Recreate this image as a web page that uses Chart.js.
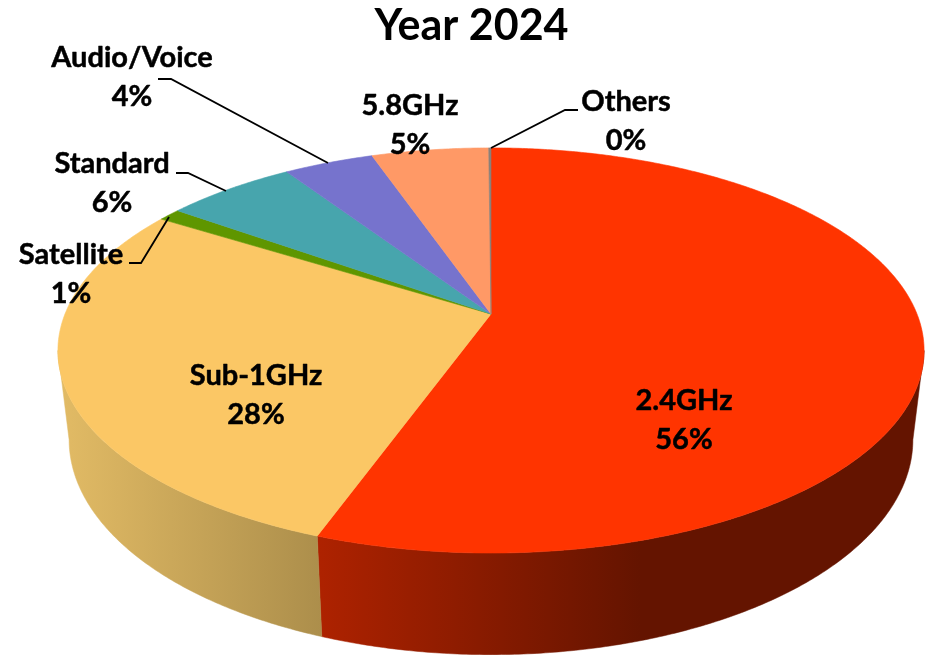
<!DOCTYPE html>
<html>
<head>
<meta charset="utf-8">
<style>html,body{margin:0;padding:0;background:#fff}canvas{display:block}</style>
<script src="https://cdn.jsdelivr.net/npm/chart.js@4"></script>
</head>
<body>
<canvas id="c" width="936" height="655"></canvas>
<script>
// ---- data ----
const categories = ['2.4GHz', 'Sub-1GHz', 'Satellite', 'Standard', 'Audio/Voice', '5.8GHz', 'Others'];
const shares = [55.5, 28.4, 1.0, 5.8, 4.0, 5.2, 0.1];
const chartTitle = 'Year 2024';

// ---- styles ----
const sliceColors = ['#ff3400', '#fbc765', '#5f9600', '#47a5ad', '#7673cd', '#ff9966', '#8c8078'];
const sideGradients = {
  0: { from: 318, to: 640, stops: ['#ae2200', '#641400'] },
  1: { from: 60, to: 322, stops: ['#e2bb65', '#ac8e4b'] }
};

// ---- layout ----
const top3d = { cx: 491, cy: 314, a: 426, b: 196, k: 0.18 };
const bottom3d = { cx: 491, cy: 401, a: 415, b: 208, k: 0.18 };
const labelPlaces = [
  { x: 684, y: 401 }, { x: 256, y: 376 }, { x: 71, y: 255 }, { x: 112, y: 164 },
  { x: 132, y: 58 }, { x: 410, y: 106 }, { x: 626, y: 102 }
];
const labelLineGap = 39;
const leaders = [
  null, null,
  [[129, 263], [141, 263], [169, 217]],
  [[176, 173], [188, 173], [226, 191]],
  [[158, 79], [171, 79], [328, 163]],
  null,
  [[578, 110], [565, 110], [491, 148]]
];
const fontFamily = 'Lato, "Open Sans", sans-serif';

function project(p, phi) {
  const u = Math.sin(phi), v = -Math.cos(phi), w = 1 - p.k * v;
  return [p.cx + p.a * u / w, p.cy + p.b * v / w];
}
const sideStart = Math.acos(-top3d.k);            // right-hand silhouette
const sideEnd = 2 * Math.PI - sideStart;          // left-hand silhouette
const STEP = Math.PI / 360;

function rimPath(ctx, p, from, to, first) {
  const dir = to >= from ? 1 : -1;
  const n = Math.max(1, Math.ceil(Math.abs(to - from) / STEP));
  for (let i = 0; i <= n; i++) {
    const q = project(p, from + dir * (Math.abs(to - from) * i / n));
    if (i === 0 && first) ctx.moveTo(q[0], q[1]); else ctx.lineTo(q[0], q[1]);
  }
}

const pie3d = {
  id: 'pie3d',
  beforeDatasetDraw(chart) {
    const ctx = chart.ctx;
    const arcs = chart.getDatasetMeta(0).data;
    ctx.save();
    // side walls
    arcs.forEach((arc, i) => {
      const s = sideGradients[i];
      if (!s) return;
      const a0 = Math.max(arc.startAngle + Math.PI / 2, sideStart);
      const a1 = Math.min(arc.endAngle + Math.PI / 2, sideEnd);
      if (a1 <= a0) return;
      const g = ctx.createLinearGradient(s.from, 0, s.to, 0);
      g.addColorStop(0, s.stops[0]);
      g.addColorStop(1, s.stops[1]);
      ctx.beginPath();
      rimPath(ctx, top3d, a0, a1, true);
      rimPath(ctx, bottom3d, a1, a0, false);
      ctx.closePath();
      ctx.fillStyle = g;
      ctx.strokeStyle = g;
      ctx.lineWidth = 0.5;
      ctx.fill();
      ctx.stroke();
    });
    // top face
    arcs.forEach(arc => {
      ctx.beginPath();
      ctx.moveTo(top3d.cx, top3d.cy);
      rimPath(ctx, top3d, arc.startAngle + Math.PI / 2, arc.endAngle + Math.PI / 2, false);
      ctx.closePath();
      ctx.fillStyle = arc.options.backgroundColor;
      ctx.strokeStyle = arc.options.backgroundColor;
      ctx.lineWidth = 0.6;
      ctx.fill();
      ctx.stroke();
    });
    ctx.restore();
    return false;
  },
  afterDatasetsDraw(chart) {
    const ctx = chart.ctx;
    ctx.save();
    ctx.strokeStyle = '#000';
    ctx.lineWidth = 1.8;
    leaders.forEach(l => {
      if (!l) return;
      ctx.beginPath();
      l.forEach((pt, i) => i ? ctx.lineTo(pt[0], pt[1]) : ctx.moveTo(pt[0], pt[1]));
      ctx.stroke();
    });
    ctx.fillStyle = '#000';
    ctx.strokeStyle = '#000';
    ctx.lineWidth = 0.5;
    ctx.lineJoin = 'round';
    ctx.font = '700 29px ' + fontFamily;
    ctx.textAlign = 'center';
    ctx.textBaseline = 'middle';
    const total = shares.reduce((s, v) => s + v, 0);
    categories.forEach((name, i) => {
      const p = labelPlaces[i];
      const pct = Math.round(shares[i] / total * 100) + '%';
      ctx.fillText(name, p.x, p.y);
      ctx.strokeText(name, p.x, p.y);
      ctx.fillText(pct, p.x, p.y + labelLineGap);
      ctx.strokeText(pct, p.x, p.y + labelLineGap);
    });
    ctx.restore();
  }
};

new Chart(document.getElementById('c'), {
  type: 'pie',
  data: {
    labels: categories,
    datasets: [{ data: shares, backgroundColor: sliceColors, borderWidth: 0 }]
  },
  options: {
    responsive: false,
    animation: false,
    events: [],
    layout: { padding: { left: 7 } },
    plugins: {
      legend: { display: false },
      tooltip: { enabled: false },
      title: {
        display: true,
        text: chartTitle,
        color: '#000',
        font: { family: fontFamily, size: 43, weight: '700', lineHeight: 1 },
        padding: { top: 5, bottom: 0 }
      }
    }
  },
  plugins: [pie3d]
});
</script>
</body>
</html>
